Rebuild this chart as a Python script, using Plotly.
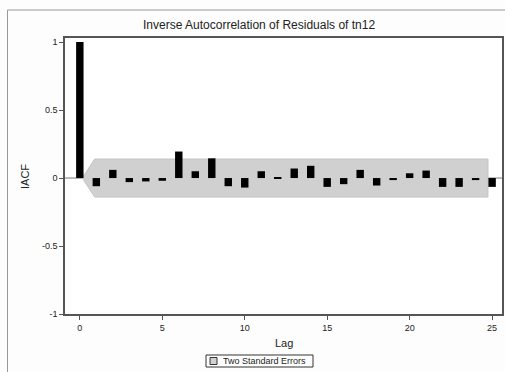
import plotly.graph_objects as go

# Inverse autocorrelation function of the residuals, lags 0..25
lags = list(range(26))
iacf = [1.0, -0.06, 0.06, -0.03, -0.025, -0.02, 0.195, 0.05, 0.145, -0.06,
        -0.07, 0.05, 0.005, 0.07, 0.09, -0.065, -0.045, 0.06, -0.055, -0.015,
        0.035, 0.055, -0.065, -0.065, -0.015, -0.065]
two_se = 0.14          # two standard error limit
band_start, band_full, band_end = 0.15, 0.9, 24.75
legend_label = "Two Standard Errors"

x_ticks = [0, 5, 10, 15, 20, 25]
y_ticks = [-1, -0.5, 0, 0.5, 1]
y_tick_text = ["-1", "-0.5", "0", "0.5", "1"]

W, H = 505, 372
L, R, T, B = 65, 3, 38, 58
pw, ph = W - L - R, H - T - B


def px_x(p):
    return (p - L) / pw


def px_y(p):
    return (H - B - p) / ph


axis_col = "#555555"
band_fill = "#d0d0d0"
font = "Liberation Sans, Arial, sans-serif"

fig = go.Figure()

fig.add_trace(go.Bar(
    x=lags, y=iacf, width=0.45,
    marker=dict(color="black", line=dict(width=0)),
    showlegend=False, hoverinfo="x+y",
))

band_path = (f"M {band_start} 0 L {band_full} {two_se} L {band_end} {two_se} "
             f"L {band_end} {-two_se} L {band_full} {-two_se} Z")

shapes = [
    dict(type="path", path=band_path, xref="x", yref="y", layer="below",
         fillcolor=band_fill, line=dict(color="#c4c4c4", width=1)),
    dict(type="line", xref="paper", yref="y", x0=0, x1=1, y0=0, y1=0,
         line=dict(color="#777777", width=1), layer="below"),
    # outer frame around the graph
    dict(type="line", xref="paper", yref="paper",
         x0=px_x(7.5), x1=px_x(7.5), y0=px_y(10), y1=px_y(H + 5),
         line=dict(color="#999999", width=1)),
    dict(type="line", xref="paper", yref="paper",
         x0=px_x(7.5), x1=px_x(W + 5), y0=px_y(10), y1=px_y(10),
         line=dict(color="#999999", width=1)),
    # legend box and its swatch
    dict(type="rect", xref="paper", yref="paper",
         x0=px_x(206), x1=px_x(313), y0=px_y(355), y1=px_y(367),
         fillcolor="white", line=dict(color="#333333", width=1)),
    dict(type="rect", xref="paper", yref="paper",
         x0=px_x(210), x1=px_x(217), y0=px_y(357.5), y1=px_y(364.5),
         fillcolor=band_fill, line=dict(color="#333333", width=1)),
]

fig.update_layout(
    width=W, height=H,
    margin=dict(l=L, r=R, t=T, b=B, autoexpand=False),
    paper_bgcolor="#fdfdfd", plot_bgcolor="white",
    font=dict(family=font, size=9, color="#222222"),
    showlegend=False,
    title=dict(text="Inverse Autocorrelation of Residuals of tn12",
               x=143 / W, xanchor="left", xref="container",
               y=(H - 25) / H, yanchor="middle",
               font=dict(size=12, color="#222222", family=font)),
    xaxis=dict(range=[-0.9, 25.6], tickvals=x_ticks, ticks="outside",
               ticklen=4, tickcolor=axis_col, showgrid=False, zeroline=False,
               showline=True, linecolor=axis_col, linewidth=1.5, mirror=True,
               tickfont=dict(size=9)),
    yaxis=dict(range=[-1.0, 1.03], tickvals=y_ticks, ticktext=y_tick_text,
               ticks="outside", ticklen=4, tickcolor=axis_col, showgrid=False,
               zeroline=False, showline=True, linecolor=axis_col,
               linewidth=1.5, mirror=True, tickfont=dict(size=9)),
    shapes=shapes,
    annotations=[
        dict(text="IACF", xref="paper", yref="paper", x=px_x(25), y=px_y(177),
             xanchor="center", yanchor="middle",
             showarrow=False, textangle=-90, font=dict(size=11, family=font)),
        dict(text="Lag", xref="paper", yref="paper", x=px_x(284), y=px_y(343),
             xanchor="center", yanchor="middle",
             showarrow=False, font=dict(size=11, family=font)),
        dict(text=legend_label, xref="paper", yref="paper",
             x=px_x(221), y=px_y(361), xanchor="left", yanchor="middle",
             showarrow=False, font=dict(size=9, family=font)),
    ],
)

fig.write_html("out.html")
